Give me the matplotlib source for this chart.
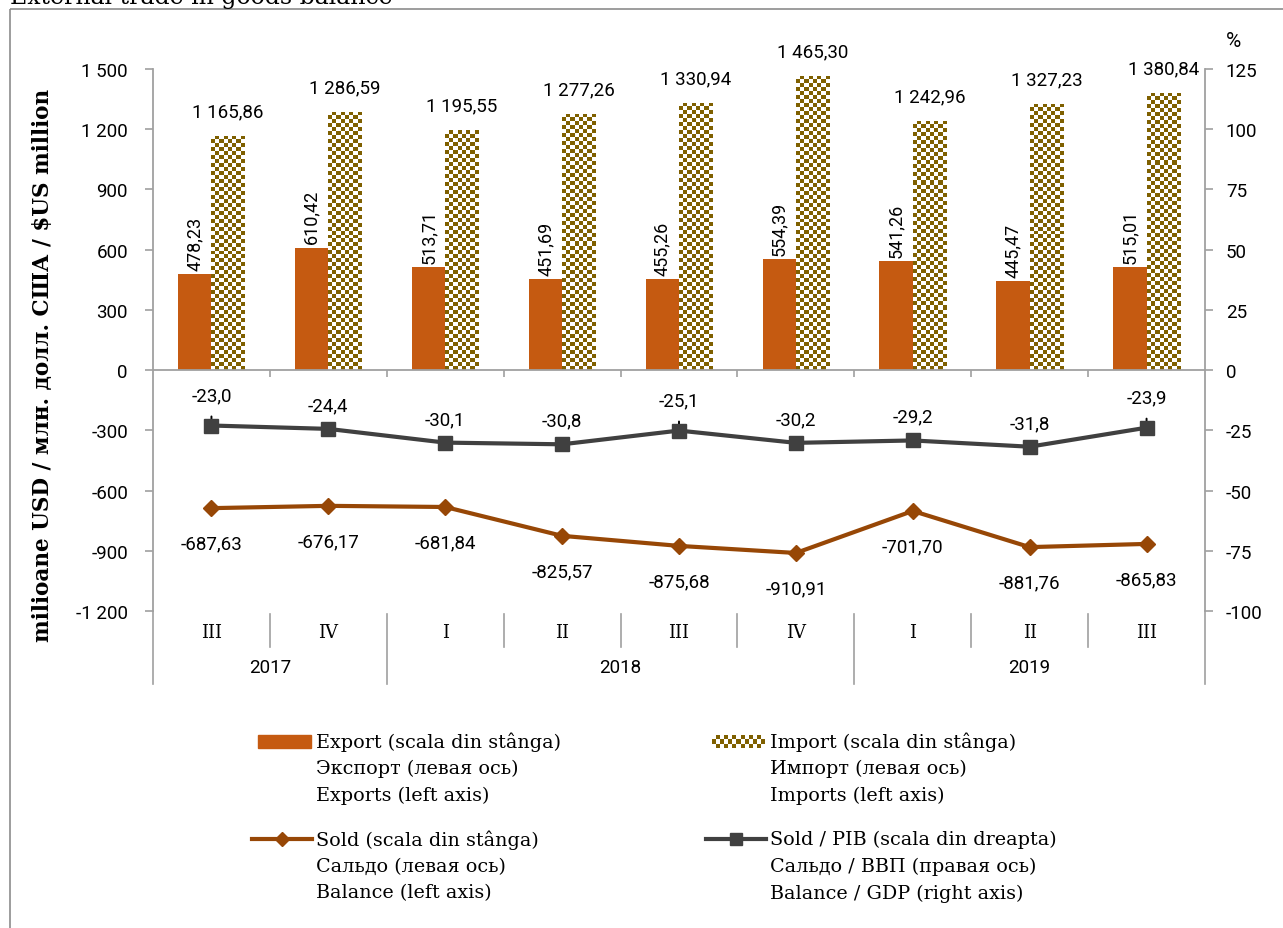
import numpy as np
import matplotlib
matplotlib.use('Agg')
import matplotlib.pyplot as plt
from matplotlib import font_manager
from matplotlib.colors import ListedColormap
from matplotlib.patches import Rectangle
from matplotlib.lines import Line2D
from matplotlib.ticker import FuncFormatter, FixedLocator

# data
quarters = ['III', 'IV', 'I', 'II', 'III', 'IV', 'I', 'II', 'III']
years = ['2017', '2018', '2019']
year_start = [0, 2, 6]          # index of first quarter of each year
exports = [478.23, 610.42, 513.71, 451.69, 455.26, 554.39, 541.26, 445.47, 515.01]
imports = [1165.86, 1286.59, 1195.55, 1277.26, 1330.94, 1465.30, 1242.96, 1327.23, 1380.84]
balance = [-687.63, -676.17, -681.84, -825.57, -875.68, -910.91, -701.70, -881.76, -865.83]
bal_gdp = [-23.0, -24.4, -30.1, -30.8, -25.1, -30.2, -29.2, -31.8, -23.9]
gdp_leader = [0, 4, 8]          # labels drawn with a leader line

left_ticks = list(range(-1200, 1501, 300))
right_ticks = list(range(-100, 126, 25))

ORANGE = '#C55A11'
OLIVE = '#7F6000'
BROWN = '#974706'
DARK = '#404040'
AXC = '#A0A0A0'

names = {f.name for f in font_manager.fontManager.ttflist}
SANS = 'Liberation Sans Narrow' if 'Liberation Sans Narrow' in names else 'Roboto'
SERIF = 'DejaVu Serif'
plt.rcParams['font.family'] = SANS
FS = 13.5


def fmt(v, nd):
    s = f"{v:,.{nd}f}"
    return s.replace(',', ' ').replace('.', ',')


def checker(ax, x0, y0, w, h, cell=4.0, zorder=2, clip=None):
    (px0, py0), (px1, py1) = ax.transData.transform([(x0, y0), (x0 + w, y0 + h)])
    nx = max(1, int(round(abs(px1 - px0) / cell)))
    ny = max(1, int(round(abs(py1 - py0) / cell)))
    grid = np.add.outer(np.arange(ny), np.arange(nx)) % 2
    im = ax.imshow(grid, cmap=ListedColormap(['white', OLIVE]),
                   extent=(x0, x0 + w, y0, y0 + h), aspect='auto',
                   interpolation='nearest', zorder=zorder)
    if clip is not None:
        im.set_clip_path(clip)
    return im


fig = plt.figure(figsize=(12.83, 9.29), dpi=100)

# background layer in pixel coords: outer frame, title, legend
lax = fig.add_axes([0, 0, 1, 1])
lax.set_xlim(0, 1283)
lax.set_ylim(929, 0)
lax.axis('off')
lax.set_autoscale_on(False)
lax.add_patch(Rectangle((10, 10), 1400, 1000, fill=False, ec='#8C8C8C', lw=1.2))
lax.text(10, 3.5, 'External trade in goods balance', family=SERIF, fontsize=17,
         va='baseline', ha='left')

ax = fig.add_axes([153 / 1283, 1 - 612 / 929, (1205 - 153) / 1283, (612 - 70) / 929])
ax2 = ax.twinx()
n = len(quarters)
x = np.arange(n)
bw = 0.285

ax.set_xlim(-0.5, n - 0.5)
ax.set_ylim(-1200, 1500)
ax2.set_ylim(-100, 125)
ax.set_autoscale_on(False)

ax.bar(x - bw / 2, exports, bw, color=ORANGE, zorder=2)
ibars = ax.bar(x + bw / 2, imports, bw, color='white', zorder=2)
for b in ibars:
    checker(ax, b.get_x(), b.get_y(), b.get_width(), b.get_height(), clip=b)
ax.set_xlim(-0.5, n - 0.5)
ax.set_ylim(-1200, 1500)

ax.plot(x, balance, color=BROWN, lw=3, marker='D', ms=8.5, zorder=4)
ax2.plot(x, bal_gdp, color=DARK, lw=3, marker='s', ms=10.5, zorder=4)

# data labels
for xi, v in zip(x, exports):
    ax.annotate(fmt(v, 2), (xi - bw / 2, v), xytext=(0, 3), textcoords='offset points',
                rotation=90, ha='center', va='bottom', fontsize=13)
for xi, v in zip(x, imports):
    ax.annotate(fmt(v, 2), (xi + bw / 2, v), xytext=(0, 11), textcoords='offset points',
                ha='center', va='bottom', fontsize=FS)
for xi, v in zip(x, balance):
    ax.annotate(fmt(v, 2), (xi, v), xytext=(0, -25.5), textcoords='offset points',
                ha='center', va='center', fontsize=FS)
for i, (xi, v) in enumerate(zip(x, bal_gdp)):
    if i in gdp_leader:
        ax2.annotate(fmt(v, 1), (xi, v), xytext=(0, 22), textcoords='offset points',
                     ha='center', va='center', fontsize=FS,
                     arrowprops=dict(arrowstyle='-', color='black', lw=1.4,
                                     shrinkA=7, shrinkB=0))
    else:
        ax2.annotate(fmt(v, 1), (xi, v), xytext=(0, 17), textcoords='offset points',
                     ha='center', va='center', fontsize=FS)

# axes styling
for a in (ax, ax2):
    a.spines['top'].set_visible(False)
    a.spines['bottom'].set_visible(False)
    a.spines['left'].set_color(AXC)
    a.spines['right'].set_color(AXC)
    a.spines['left'].set_linewidth(1.3)
    a.spines['right'].set_linewidth(1.3)
ax2.spines['left'].set_visible(False)
ax.spines['right'].set_visible(False)

ax.yaxis.set_major_locator(FixedLocator(left_ticks))
ax.yaxis.set_major_formatter(FuncFormatter(lambda v, p: fmt(v, 0)))
ax2.yaxis.set_major_locator(FixedLocator(right_ticks))
ax2.yaxis.set_major_formatter(FuncFormatter(lambda v, p: fmt(v, 0)))
ax.tick_params(axis='y', direction='out', length=6, width=1.2, color=AXC,
               labelsize=FS, pad=12)
ax2.tick_params(axis='y', direction='out', length=6, width=1.2, color=AXC,
                labelsize=FS, pad=9)
ax.set_xticks([])

ax.set_ylabel('milioane USD / млн. долл. США / $US million', family=SERIF,
              fontweight='bold', fontsize=15.5)
ax.yaxis.set_label_coords(-0.094, 0.455)
ax2.text(1.02, 1.035, '%', transform=ax2.transAxes, fontsize=15, ha='left', va='bottom')

# horizontal axis at zero with ticks between categories
ax.axhline(0, color=AXC, lw=1.3, zorder=3)
bounds = np.arange(n - 1) + 0.5
ax.vlines(bounds, -32, 0, color=AXC, lw=1.2, zorder=3)

# multi-level category labels under the plot
tr = ax.get_xaxis_transform()
year_edges = [year_start[0] - 0.5] + [s - 0.5 for s in year_start[1:]] + [n - 0.5]
for b in bounds:
    if b not in year_edges:
        ax.add_line(Line2D([b, b], [-0.005, -0.066], transform=tr, color=AXC,
                           lw=1.2, clip_on=False))
for b in year_edges:
    ax.add_line(Line2D([b, b], [-0.005 if b not in (-0.5, n - 0.5) else 0, -0.134],
                       transform=tr, color=AXC, lw=1.2, clip_on=False))
for xi, q in zip(x, quarters):
    ax.text(xi, -0.039, q, transform=tr, ha='center', va='center', family=SERIF,
            fontsize=13)
ends = year_start[1:] + [n]
for yr, s, e in zip(years, year_start, ends):
    ax.text((s + e - 1) / 2, -0.104, yr, transform=tr, ha='center', va='center',
            fontsize=FS)

# legend, drawn by hand in pixel coords
lh = 26.7
entries = [
    (258, 742, 'bar', ['Export (scala din stânga)', 'Экспорт (левая ось)', 'Exports (left axis)']),
    (712, 742, 'check', ['Import (scala din stânga)', 'Импорт (левая ось)', 'Imports (left axis)']),
    (258, 840, 'diamond', ['Sold (scala din stânga)', 'Сальдо (левая ось)', 'Balance (left axis)']),
    (712, 840, 'square', ['Sold / PIB (scala din dreapta)', 'Сальдо / ВВП (правая ось)',
                          'Balance / GDP (right axis)']),
]
for hx, hy, kind, lines in entries:
    if kind == 'bar':
        lax.add_patch(Rectangle((hx, hy - 6.5), 53, 13, color=ORANGE))
    elif kind == 'check':
        checker(lax, hx, hy + 6.5, 53, -13, zorder=3)
    elif kind == 'diamond':
        lax.plot([hx - 6, hx + 54], [hy, hy], color=BROWN, lw=3, zorder=3)
        lax.plot([hx + 24], [hy], color=BROWN, marker='D', ms=7, zorder=3)
    else:
        lax.plot([hx - 6, hx + 54], [hy, hy], color=DARK, lw=3, zorder=3)
        lax.plot([hx + 24], [hy], color=DARK, marker='s', ms=9, zorder=3)
    for k, t in enumerate(lines):
        lax.text(hx + 58, hy + k * lh, t, family=SERIF, fontsize=13.8, va='center',
                 ha='left')

fig.savefig('out.png', dpi=100)
